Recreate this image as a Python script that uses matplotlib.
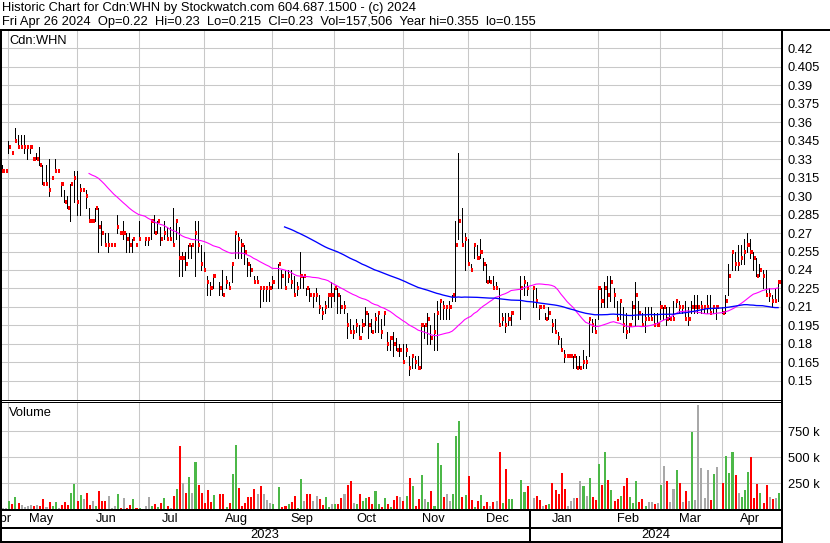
import numpy as np
import pandas as pd
import matplotlib
matplotlib.use("Agg")
import matplotlib.pyplot as plt
from matplotlib.lines import Line2D

plt.rcParams['font.family'] = ['Liberation Sans', 'DejaVu Sans']

nan = np.nan

# ---------------- data (one slot per trading day, Apr 2023 - Apr 2024) ----------------
high = [
    .325, .325, .32, .345, .335, .355, .35, .35, .35, .34,
    .34, .33, .335, .34, .325, .325, .33, .315, .33, .32,
    .31, .305, .30, .31, .32, .32, .31, .305, .305, .29,
    .28, .29, .29, .28, .27, .27, .26, .26, .285, .27,
    .28, .27, .27, .265, .26, .28, nan, .265, .265, .28,
    .285, .28, .275, .28, .275, .275, .29, .28, .275, .255,
    .255, .26, .26, .28, .28, .26, .255, .235, .23, .235,
    nan, .23, .24, .235, .23, .245, .27, .27, .265, .26,
    .25, .245, .235, .235, .225, .225, .225, .23, .235, nan,
    .245, .24, .24, .24, .24, .235, .23, .255, .235, .225,
    .225, .22, .225, .22, .21, .215, .22, .23, .225, .225,
    .22, .215, .205, .20, .195, .20, .195, .20, .21, .205,
    .20, .205, .205, .20, .205, .19, .185, .19, .185, .18,
    .18, .18, .17, .17, .17, .17, .195, .195, .205, .195,
    .205, .215, .215, .215, .21, .215, .22, .28, .335, .29,
    .27, .265, .245, .26, .26, .265, .25, .245, .235, .235,
    .23, .225, .205, .205, .205, .205, nan, nan, .235, .235,
    .23, nan, .225, .225, .21, .21, .205, .21, .20, .20,
    .19, .185, .175, .17, .17, .17, .17, .17, .175, .17,
    .20, .20, .20, .225, .225, .23, .235, .235, .225, .215,
    .215, .21, .205, .195, .215, .23, .215, .205, .21, .21,
    .21, .205, .205, .215, .21, .21, .21, .215, .215, .215,
    .21, .215, .21, .215, .22, .22, .215, .21, .22, .22,
    .21, .21, nan, .21, .22, .245, .255, .255, .26, .26,
    .265, .27, .265, .255, .25, .245, .24, .24, .225, .22,
    .225, .23,
]
low = [
    .32, .32, .32, .335, .335, .345, .34, .34, .335, .33,
    .335, .33, .33, .325, .31, .31, .30, .315, .32, .32,
    .30, .295, .29, .28, .295, .285, .285, .305, .29, .28,
    .28, .28, .255, .26, .26, .255, .26, .26, .27, .27,
    .265, .255, .255, .255, .26, .265, nan, .26, .26, .265,
    .27, .27, .26, .265, .265, .265, .26, .265, .235, .235,
    .24, .25, .25, .235, .255, .24, .24, .22, .22, .225,
    nan, .22, .22, .225, .225, .23, .25, .25, .25, .245,
    .235, .235, .23, .23, .21, .215, .215, .215, .225, nan,
    .225, .225, .225, .23, .225, .22, .22, .225, .225, .22,
    .215, .21, .215, .205, .20, .205, .21, .21, .215, .205,
    .205, .205, .185, .19, .185, .19, .185, .19, .195, .185,
    .19, .19, .19, .185, .195, .175, .175, .17, .175, .17,
    .165, .17, .155, .16, .16, .16, .16, .185, .18, .18,
    .175, .175, .20, .20, .20, .20, .215, .215, .265, .26,
    .24, .245, .24, .25, .25, .25, .24, .23, .23, .225,
    .225, .195, .195, .19, .195, .195, nan, nan, .20, .22,
    .22, nan, .21, .21, .20, .21, .20, .20, .19, .19,
    .18, .175, .165, .17, .17, .16, .16, .16, .16, .16,
    .17, .19, .19, .20, .21, .21, .21, .215, .21, .20,
    .20, .19, .185, .19, .20, .195, .20, .195, .19, .20,
    .20, .195, .195, .20, .20, .195, .20, .20, .21, .205,
    .205, .20, .195, .205, .205, .205, .205, .205, .205, .205,
    .205, .20, nan, .205, .205, .22, .24, .24, .24, .245,
    .245, .255, .25, .24, .235, .235, .225, .22, .215, .21,
    .215, .215,
]
close = [
    .32, .32, .32, .34, .335, .345, .34, .34, .34, .34,
    .34, .33, .33, .325, .31, .31, .305, .315, .32, .32,
    .31, .295, .29, .31, .315, .295, .305, .305, .30, .28,
    .28, .29, .275, .27, .26, .26, .26, .26, .275, .27,
    .27, .265, .26, .265, .26, .265, nan, .265, .265, .28,
    .27, .28, .265, .27, .265, .265, .26, .28, .25, .25,
    .245, .26, .26, .27, .26, .245, .24, .23, .225, .235,
    nan, .225, .22, .23, .225, .245, .27, .265, .26, .255,
    .245, .24, .23, .23, .225, .225, .225, .225, .23, nan,
    .245, .235, .225, .235, .23, .22, .225, .235, .235, .225,
    .22, .22, .22, .21, .205, .21, .22, .22, .225, .22,
    .21, .21, .195, .19, .19, .195, .185, .195, .205, .195,
    .19, .20, .205, .19, .205, .18, .185, .18, .175, .175,
    .165, .175, .16, .17, .165, .16, .195, .195, .20, .185,
    .19, .205, .215, .21, .21, .21, .22, .26, .28, .26,
    .265, .245, .24, .26, .25, .255, .245, .23, .23, .225,
    .225, .195, .20, .195, .20, .205, nan, nan, .225, .23,
    .225, nan, .225, .215, .21, .21, .20, .205, .195, .19,
    .185, .175, .17, .17, .17, .17, .16, .16, .165, .165,
    .20, .195, .19, .225, .215, .225, .22, .23, .22, .20,
    .215, .195, .19, .195, .21, .22, .205, .195, .20, .20,
    .20, .195, .195, .21, .21, .20, .20, .20, .215, .21,
    .21, .20, .20, .21, .21, .21, .21, .21, .21, .205,
    .21, .21, nan, .205, .215, .235, .255, .245, .245, .25,
    .255, .26, .255, .25, .235, .24, .235, .22, .22, .215,
    .215, .23,
]
volume_k = [
    10, 13, 5, 77, 51, 115, 58, 38, 22, 32,
    38, 29, 38, 29, 96, 19, 67, 29, 67, 13,
    38, 67, 42, 154, 240, 77, 135, 96, 154, 38,
    77, 29, 173, 77, 77, 125, 13, 32, 144, 6,
    106, 6, 38, 96, 13, 6, 0, 29, 115, 29,
    48, 19, 58, 106, 29, 10, 125, 192, 606, 250,
    151, 308, 154, 452, 231, 154, 58, 183, 67, 135,
    0, 144, 144, 19, 58, 337, 615, 202, 29, 58,
    115, 115, 192, 144, 221, 144, 87, 58, 48, 0,
    212, 19, 29, 48, 67, 125, 10, 288, 77, 144,
    144, 77, 125, 96, 38, 115, 19, 48, 48, 48,
    106, 144, 231, 269, 58, 48, 144, 77, 106, 115,
    48, 173, 48, 19, 106, 48, 19, 87, 125, 119,
    77, 125, 298, 221, 29, 96, 327, 96, 67, 173,
    29, 635, 423, 115, 144, 77, 144, 702, 846, 115,
    135, 317, 87, 19, 77, 135, 29, 67, 29, 67,
    77, 548, 58, 385, 96, 96, 0, 0, 279, 163,
    221, 0, 106, 125, 87, 29, 38, 48, 250, 183,
    144, 346, 192, 29, 77, 106, 106, 269, 221, 125,
    298, 115, 87, 433, 231, 548, 279, 183, 77, 96,
    125, 221, 298, 115, 58, 269, 67, 96, 29, 67,
    67, 48, 58, 231, 413, 269, 67, 192, 375, 253,
    71, 173, 77, 740, 87, 1000, 394, 106, 375, 87,
    337, 404, 0, 250, 510, 346, 548, 327, 154, 115,
    183, 356, 500, 106, 240, 154, 58, 231, 115, 96,
    106, 158,
]

month_names = ["Apr", "May", "Jun", "Jul", "Aug", "Sep", "Oct", "Nov", "Dec",
               "Jan", "Feb", "Mar", "Apr"]
month_first_bar = [0, 3, 25, 45, 66, 88, 108, 130, 151, 171, 193, 213, 233]
year_names = ["2023", "2024"]
year_first_bar = [0, 171]

price_ticks = [0.42, 0.405, 0.39, 0.375, 0.36, 0.345, 0.33, 0.315, 0.30, 0.285,
               0.27, 0.255, 0.24, 0.225, 0.21, 0.195, 0.18, 0.165, 0.15]
price_tick_labels = ["0.42", "0.405", "0.39", "0.375", "0.36", "0.345", "0.33",
                     "0.315", "0.30", "0.285", "0.27", "0.255", "0.24", "0.225",
                     "0.21", "0.195", "0.18", "0.165", "0.15"]
volume_ticks = [250, 500, 750]
volume_tick_labels = ["250 k", "500 k", "750 k"]

header_line1 = "Historic Chart for Cdn:WHN by Stockwatch.com 604.687.1500 - (c) 2024"
header_line2 = ("Fri Apr 26 2024  Op=0.22  Hi=0.23  Lo=0.215  Cl=0.23  "
                "Vol=157,506  Year hi=0.355  lo=0.155")
symbol = "Cdn:WHN"
fast_window, slow_window = 30, 90

# ---------------- figure layout (pixel based) ----------------
W, H = 830, 543
fig = plt.figure(figsize=(W / 100, H / 100), dpi=100)
fig.patch.set_facecolor("white")
FS = 9.3
GRID = "#c8c8c8"
XLIM = (0.32, 251.93)
PLOT_RIGHT = 781


def axes_px(x0, y0, x1, y1):
    ax = fig.add_axes([x0 / W, 1 - y1 / H, (x1 - x0) / W, (y1 - y0) / H])
    for s in ax.spines.values():
        s.set_visible(False)
    ax.set_facecolor("none")
    return ax


def hline_px(y, x0, x1, w=1.0):
    fig.add_artist(Line2D([x0 / W, x1 / W], [1 - y / H, 1 - y / H],
                          transform=fig.transFigure, color="black",
                          lw=w * 0.72, antialiased=False, solid_capstyle="butt"))


def vline_px(x, y0, y1, w=1.0):
    fig.add_artist(Line2D([x / W, x / W], [1 - y0 / H, 1 - y1 / H],
                          transform=fig.transFigure, color="black",
                          lw=w * 0.72, antialiased=False, solid_capstyle="butt"))


idx = np.arange(len(close))
hi = np.array(high, dtype=float)
lo = np.array(low, dtype=float)
cl = np.array(close, dtype=float)
vol = np.array(volume_k, dtype=float)
ok = ~np.isnan(cl)

# ---------------- price panel ----------------
axp = axes_px(0, 30.5, PLOT_RIGHT, 400)
axp.set_xlim(*XLIM)
axp.set_ylim(0.13442, 0.43445)
axp.set_yticks(price_ticks)
axp.set_yticklabels(price_tick_labels)
axp.yaxis.tick_right()
axp.tick_params(axis="y", length=0, pad=5.0, labelsize=FS)
axp.set_xticks(month_first_bar[1:])
axp.tick_params(axis="x", length=0, labelbottom=False)
axp.grid(True, color=GRID, lw=0.75)
axp.set_axisbelow(True)

axp.vlines(idx[ok], lo[ok], hi[ok], colors="black", lw=0.55, antialiased=False, zorder=3)
axp.hlines(cl[ok], idx[ok] + 0.1, idx[ok] + 0.8, colors="#ff0000", lw=1.45,
           antialiased=False, zorder=4)

valid = pd.Series(cl[ok], index=idx[ok])
ma_fast = valid.rolling(fast_window).mean()
ma_slow = valid.rolling(slow_window).mean()
axp.plot(valid.index, ma_fast.values, color="#ff00ff", lw=0.8, zorder=5)
axp.plot(valid.index, ma_slow.values, color="#0000ff", lw=0.95, zorder=5)

fig.text(9 / W, 1 - 41 / H, symbol, fontsize=FS, va="center", ha="left")

# ---------------- volume panel ----------------
axv = axes_px(0, 402, PLOT_RIGHT, 509)
axv.set_xlim(*XLIM)
axv.set_ylim(0, 1029)
axv.set_yticks(volume_ticks)
axv.set_yticklabels(volume_tick_labels)
axv.yaxis.tick_right()
axv.tick_params(axis="y", length=0, pad=5.0, labelsize=FS)
axv.set_xticks(month_first_bar[1:])
axv.tick_params(axis="x", length=0, labelbottom=False)
axv.grid(True, color=GRID, lw=0.75)
axv.set_axisbelow(True)

prev = valid.shift(1)
cols = []
for c, p in zip(valid.values, prev.values):
    if np.isnan(p) or abs(c - p) < 1e-9:
        cols.append("#a8a8a8")
    elif c > p:
        cols.append("#4cb848")
    else:
        cols.append("#ff0000")
axv.bar(valid.index + 0.3, vol[ok], width=0.66, color=cols, linewidth=0,
        antialiased=False, zorder=3)
fig.text(9 / W, 1 - 413 / H, "Volume", fontsize=FS, va="center", ha="left")

# ---------------- date rows ----------------
axm = axes_px(0, 510.5, PLOT_RIGHT, 527)
axm.set_xlim(*XLIM)
axm.set_ylim(0, 1)
axm.set_xticks([])
axm.set_yticks([])
bounds = month_first_bar + [len(close)]
for k, name in enumerate(month_names):
    c = (bounds[k] - 0.5 + bounds[k + 1] - 0.5) / 2
    axm.text(c, 0.47, name, fontsize=FS, ha="center", va="center", clip_on=True)

axy = axes_px(0, 528.5, PLOT_RIGHT, 541)
axy.set_xlim(*XLIM)
axy.set_ylim(0, 1)
axy.set_xticks([])
axy.set_yticks([])
yb = [max(year_first_bar[0], XLIM[0])] + year_first_bar[1:] + [XLIM[1]]
for k, name in enumerate(year_names):
    axy.text((yb[k] + yb[k + 1]) / 2, 0.45, name, fontsize=FS, ha="center", va="center")

# ---------------- header ----------------
fig.text(2 / W, 1 - 8.5 / H, header_line1, fontsize=FS, va="center", ha="left")
fig.text(2 / W, 1 - 22 / H, header_line2, fontsize=FS, va="center", ha="left")

# ---------------- frame lines ----------------
xsep = -1 + 3.104 * year_first_bar[1]
hline_px(30, 0, W, 2)
vline_px(0.8, 30, 543, 2)
vline_px(782, 30, 543, 2)
hline_px(400, 0, 782, 1)
hline_px(402.3, 0, 782, 1)
hline_px(510, 0, 782, 2)
hline_px(528, 0, 782, 2)
hline_px(542, 0, 782, 2)
vline_px(xsep, 510, 543, 2)

fig.savefig("out.png", dpi=100, facecolor="white")
